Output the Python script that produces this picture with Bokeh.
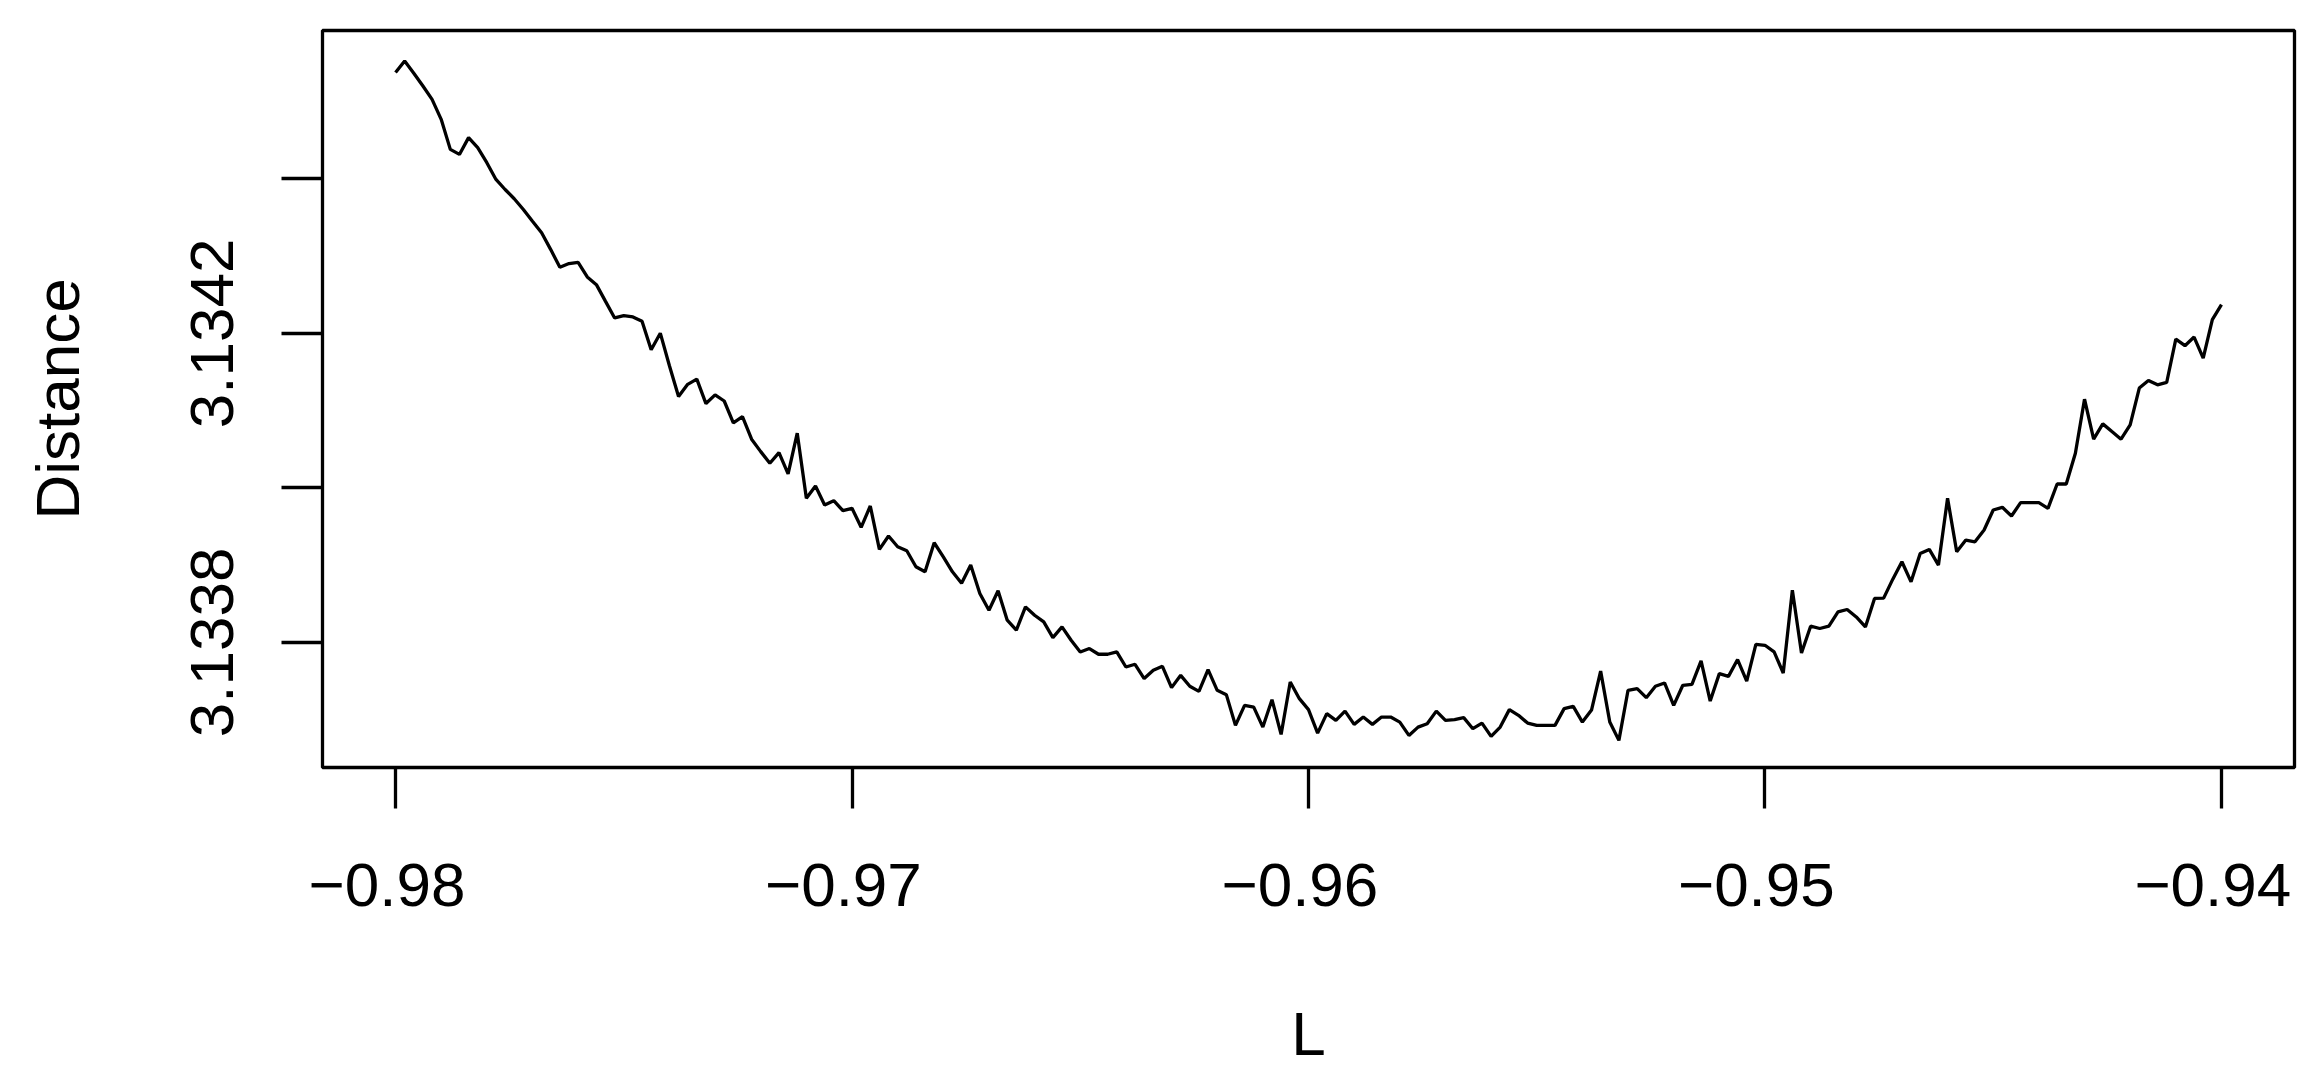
import numpy as np
from bokeh.plotting import figure
from bokeh.models import Range1d, FixedTicker
from bokeh.embed import file_html
from bokeh.resources import INLINE

# L grid (201 evaluation points from -0.98 to -0.94)
L_values = np.linspace(-0.98, -0.94, 201)

distance = [
    3.1345376, 3.1345526, 3.1345367, 3.1345202, 3.1345029, 3.1344770, 3.1344381, 3.1344316, 3.1344533, 3.1344403,
    3.1344209, 3.1343992, 3.1343862, 3.1343742, 3.1343603, 3.1343451, 3.1343301, 3.1343084, 3.1342855, 3.1342903,
    3.1342920, 3.1342730, 3.1342630, 3.1342414, 3.1342199, 3.1342229, 3.1342212, 3.1342155, 3.1341788, 3.1342002,
    3.1341580, 3.1341182, 3.1341340, 3.1341408, 3.1341091, 3.1341204, 3.1341124, 3.1340841, 3.1340921, 3.1340630,
    3.1340469, 3.1340318, 3.1340456, 3.1340180, 3.1340707, 3.1339865, 3.1340024, 3.1339778, 3.1339834, 3.1339704,
    3.1339735, 3.1339489, 3.1339765, 3.1339203, 3.1339376, 3.1339237, 3.1339185, 3.1338978, 3.1338913, 3.1339289,
    3.1339107, 3.1338913, 3.1338766, 3.1339000, 3.1338633, 3.1338416, 3.1338667, 3.1338287, 3.1338157, 3.1338459,
    3.1338351, 3.1338265, 3.1338062, 3.1338200, 3.1338027, 3.1337876, 3.1337920, 3.1337846, 3.1337846, 3.1337876,
    3.1337681, 3.1337716, 3.1337531, 3.1337638, 3.1337690, 3.1337414, 3.1337573, 3.1337431, 3.1337366, 3.1337647,
    3.1337379, 3.1337323, 3.1336925, 3.1337184, 3.1337162, 3.1336903, 3.1337258, 3.1336808, 3.1337487, 3.1337271,
    3.1337129, 3.1336825, 3.1337077, 3.1336990, 3.1337110, 3.1336938, 3.1337033, 3.1336938, 3.1337033, 3.1337033,
    3.1336968, 3.1336795, 3.1336903, 3.1336947, 3.1337110, 3.1336990, 3.1336999, 3.1337025, 3.1336882, 3.1336955,
    3.1336782, 3.1336903, 3.1337129, 3.1337055, 3.1336955, 3.1336925, 3.1336925, 3.1336925, 3.1337142, 3.1337171,
    3.1336968, 3.1337123, 3.1337628, 3.1336968, 3.1336731, 3.1337379, 3.1337401, 3.1337284, 3.1337431, 3.1337474,
    3.1337184, 3.1337444, 3.1337457, 3.1337759, 3.1337240, 3.1337595, 3.1337560, 3.1337777, 3.1337499, 3.1337975,
    3.1337962, 3.1337876, 3.1337603, 3.1338676, 3.1337863, 3.1338209, 3.1338179, 3.1338209, 3.1338394, 3.1338425,
    3.1338329, 3.1338200, 3.1338568, 3.1338572, 3.1338818, 3.1339043, 3.1338783, 3.1339151, 3.1339203, 3.1339000,
    3.1339865, 3.1339172, 3.1339324, 3.1339302, 3.1339454, 3.1339713, 3.1339748, 3.1339635, 3.1339808, 3.1339808,
    3.1339808, 3.1339735, 3.1340050, 3.1340050, 3.1340448, 3.1341148, 3.1340630, 3.1340828, 3.1340728, 3.1340630,
    3.1340815, 3.1341291, 3.1341390, 3.1341334, 3.1341364, 3.1341926, 3.1341840, 3.1341952, 3.1341680, 3.1342177,
    3.1342371,
]

x_ticks = [-0.98, -0.97, -0.96, -0.95, -0.94]
x_tick_labels = ["\u22120.98", "\u22120.97", "\u22120.96", "\u22120.95", "\u22120.94"]
y_ticks = [3.1338, 3.1340, 3.1342, 3.1344]
y_tick_labels = ["3.1338", "", "3.1342", ""]

FONT = "Liberation Sans"
FS = "62px"
LW = 3.3

p = figure(width=2316, height=1076, output_backend="svg", toolbar_location=None,
           x_range=Range1d(-0.9816, -0.9384), y_range=Range1d(3.133638, 3.134592),
           min_border_left=322, min_border_right=22, min_border_top=30, min_border_bottom=309)

p.line(L_values, distance, line_color="black", line_width=LW)

p.grid.visible = False
p.background_fill_color = "white"
p.border_fill_color = "white"
p.outline_line_color = "black"
p.outline_line_width = LW
p.outline_line_alpha = 1.0

for ax in (p.xaxis[0], p.yaxis[0]):
    ax.axis_line_color = None
    ax.major_tick_in = 0
    ax.major_tick_out = 41
    ax.major_tick_line_width = LW
    ax.major_tick_line_color = "black"
    ax.minor_tick_line_color = None
    ax.major_label_text_font = FONT
    ax.major_label_text_font_size = FS
    ax.major_label_text_color = "black"
    ax.axis_label_text_font = FONT
    ax.axis_label_text_font_size = FS
    ax.axis_label_text_font_style = "normal"
    ax.axis_label_text_color = "black"

p.xaxis[0].ticker = FixedTicker(ticks=x_ticks)
p.xaxis[0].major_label_overrides = {t: s + "\u00a0" for t, s in zip(x_ticks, x_tick_labels)}
p.xaxis[0].axis_label = "L"
p.xaxis[0].major_label_standoff = 41
p.xaxis[0].axis_label_standoff = 77

p.yaxis[0].ticker = FixedTicker(ticks=y_ticks)
p.yaxis[0].major_label_overrides = dict(zip(y_ticks, y_tick_labels))
p.yaxis[0].major_label_orientation = "vertical"
p.yaxis[0].axis_label = "Distance"
p.yaxis[0].major_label_standoff = 48
p.yaxis[0].axis_label_standoff = 97

open("out.html", "w").write(file_html(p, INLINE))
